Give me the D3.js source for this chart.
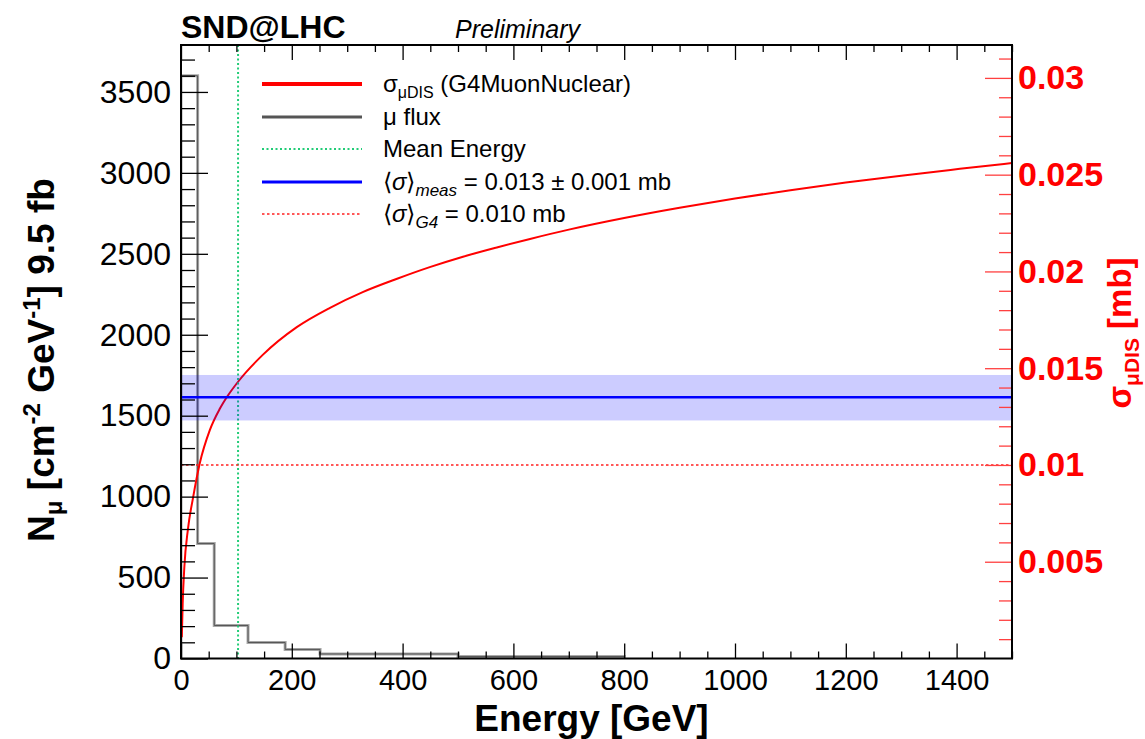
<!DOCTYPE html>
<html>
<head>
<meta charset="utf-8">
<script src="https://cdn.jsdelivr.net/npm/d3@7"></script>
<style>
  html, body { margin: 0; padding: 0; background: #fff; }
  svg { display: block; font-family: "Liberation Sans", Arial, Helvetica, sans-serif; }
</style>
</head>
<body>
<svg id="chart" width="1145" height="739"></svg>
<script>
// ---------------- data ----------------
const binEdges   = [0, 30, 60, 121, 188, 251, 500, 800];          // GeV
const fluxCounts = [3600, 710, 204, 99, 56, 28, 12];               // N_mu per bin

const sigmaEnergy = [1.5, 3, 6, 12.6, 21.7, 34, 52, 70, 85, 103, 148, 209, 269, 328, 390, 449, 509, 570, 630, 700, 800, 900, 1000, 1100, 1200, 1300, 1406, 1500];
const sigmaValues = [0.0011, 0.0028, 0.0047, 0.0067, 0.0083, 0.0101, 0.0118, 0.0129, 0.0136, 0.0143, 0.0157, 0.01712, 0.01812, 0.01893, 0.01962, 0.02022, 0.02076, 0.02124, 0.02168, 0.02216, 0.02276, 0.02329, 0.02377, 0.0242, 0.02459, 0.02495, 0.0253, 0.0256];

const meanEnergy   = 103;
const sigmaMeas    = 0.0135;
const sigmaMeasLo  = 0.0123;
const sigmaMeasHi  = 0.01465;
const sigmaG4      = 0.0100;

const xTicks          = [0, 200, 400, 600, 800, 1000, 1200, 1400];
const yLeftTicks      = [0, 500, 1000, 1500, 2000, 2500, 3000, 3500];
const yRightTicks     = [0.005, 0.01, 0.015, 0.02, 0.025, 0.03];
const yRightLabels    = ["0.005", "0.01", "0.015", "0.02", "0.025", "0.03"];

const legendLabels = ["sigmaDIS", "flux", "mean", "meas", "g4"];

// ---------------- layout ----------------
const L = 181, R = 1012, T = 45, B = 658.5;
const svg = d3.select("#chart");

const x  = d3.scaleLinear().domain([0, 1500]).range([L, R]);
const yL = d3.scaleLinear().domain([0, 3790]).range([B, T]);
const yR = d3.scaleLinear().domain([0, 0.0317]).range([B, T]);

const font = '"Liberation Sans", Arial, Helvetica, sans-serif';

// clip
svg.append("clipPath").attr("id", "clip")
  .append("rect").attr("x", L).attr("y", T).attr("width", R - L).attr("height", B - T);
const plot = svg.append("g").attr("clip-path", "url(#clip)");

// histogram (step)
const histPts = [[binEdges[0], 0]];
fluxCounts.forEach((c, i) => { histPts.push([binEdges[i], c]); histPts.push([binEdges[i + 1], c]); });
histPts.push([binEdges[binEdges.length - 1], 0]);
const histLine = d3.line().x(d => x(d[0])).y(d => yL(d[1]));
plot.append("path").attr("d", histLine(histPts))
  .attr("fill", "none").attr("stroke", "#a8a8a8").attr("stroke-width", 3);
plot.append("path").attr("d", histLine(histPts))
  .attr("fill", "none").attr("stroke", "#555").attr("stroke-width", 1);

// red sigma curve
const sigmaPts = sigmaEnergy.map((e, i) => [e, sigmaValues[i]]);
plot.append("path")
  .attr("d", d3.line().x(d => x(d[0])).y(d => yR(d[1])).curve(d3.curveMonotoneX)(sigmaPts))
  .attr("fill", "none").attr("stroke", "#ff0000").attr("stroke-width", 2);

// mean energy line
plot.append("line")
  .attr("x1", x(meanEnergy)).attr("x2", x(meanEnergy)).attr("y1", T).attr("y2", B)
  .attr("stroke", "#22cc77").attr("stroke-width", 2).attr("stroke-dasharray", "2,2.5");

// G4 mean line
plot.append("line")
  .attr("x1", L).attr("x2", R).attr("y1", yR(sigmaG4)).attr("y2", yR(sigmaG4))
  .attr("stroke", "#ff2020").attr("stroke-width", 1.6).attr("stroke-dasharray", "2.5,2.5");

// measured band (semi transparent, over curves)
plot.append("rect")
  .attr("x", L).attr("width", R - L)
  .attr("y", yR(sigmaMeasHi)).attr("height", yR(sigmaMeasLo) - yR(sigmaMeasHi))
  .attr("fill", "#0000ff").attr("fill-opacity", 0.2);
plot.append("line")
  .attr("x1", L).attr("x2", R).attr("y1", yR(sigmaMeas)).attr("y2", yR(sigmaMeas))
  .attr("stroke", "#0000ff").attr("stroke-width", 2.5);

// ---------------- axes ----------------
function styleAxis(g, color) {
  g.select(".domain").remove();
  g.selectAll("line").attr("stroke", color);
}

// bottom
const gxB = svg.append("g").attr("transform", `translate(0,${B})`)
  .call(d3.axisBottom(x).tickValues(xTicks).tickSize(-15).tickPadding(11).tickFormat(d3.format("d")));
styleAxis(gxB, "#000");
gxB.selectAll("line").attr("stroke-width", 1.3);
gxB.selectAll("text").attr("font-size", 29).attr("fill", "#000").attr("font-family", font);
const gxBm = svg.append("g").attr("transform", `translate(0,${B})`)
  .call(d3.axisBottom(x).tickValues(d3.range(0, 1501, 50).filter(v => v % 200 !== 0)).tickSize(-7).tickFormat(""));
styleAxis(gxBm, "#000"); gxBm.selectAll("line").attr("stroke-width", 1.3);

// top
const gxT = svg.append("g").attr("transform", `translate(0,${T})`)
  .call(d3.axisTop(x).tickValues(xTicks).tickSize(-15).tickFormat(""));
styleAxis(gxT, "#000"); gxT.selectAll("line").attr("stroke-width", 1.3);
const gxTm = svg.append("g").attr("transform", `translate(0,${T})`)
  .call(d3.axisTop(x).tickValues(d3.range(0, 1501, 50).filter(v => v % 200 !== 0)).tickSize(-7).tickFormat(""));
styleAxis(gxTm, "#000"); gxTm.selectAll("line").attr("stroke-width", 1.3);

// left
const gyL = svg.append("g").attr("transform", `translate(${L},0)`)
  .call(d3.axisLeft(yL).tickValues(yLeftTicks).tickSize(-27).tickPadding(10).tickFormat(d3.format("d")));
styleAxis(gyL, "#000"); gyL.selectAll("line").attr("stroke-width", 1.3);
gyL.selectAll("text").attr("font-size", 32).attr("fill", "#000").attr("font-family", font);
const gyLm = svg.append("g").attr("transform", `translate(${L},0)`)
  .call(d3.axisLeft(yL).tickValues(d3.range(0, 3790, 100).filter(v => v % 500 !== 0)).tickSize(-14).tickFormat(""));
styleAxis(gyLm, "#000"); gyLm.selectAll("line").attr("stroke-width", 1.3);

// right (red)
const gyR = svg.append("g").attr("transform", `translate(${R},0)`)
  .call(d3.axisRight(yR).tickValues(yRightTicks).tickSize(-27).tickPadding(6)
    .tickFormat((d, i) => yRightLabels[i]));
styleAxis(gyR, "#ff4040"); gyR.selectAll("line").attr("stroke-width", 1.3);
gyR.selectAll("text").attr("font-size", 34).attr("font-weight", "bold").attr("fill", "#ff0000").attr("font-family", font);
const gyRm = svg.append("g").attr("transform", `translate(${R},0)`)
  .call(d3.axisRight(yR).tickValues(d3.range(1, 32).map(v => v / 1000).filter(v => Math.round(v * 1000) % 5 !== 0)).tickSize(-13).tickFormat(""));
styleAxis(gyRm, "#ff4040"); gyRm.selectAll("line").attr("stroke-width", 1.3);

// frame
svg.append("rect").attr("x", L).attr("y", T).attr("width", R - L).attr("height", B - T)
  .attr("fill", "none").attr("stroke", "#000").attr("stroke-width", 2);

// ---------------- titles ----------------
svg.append("text").attr("x", L).attr("y", 38)
  .attr("font-size", 32).attr("font-weight", "bold").attr("font-family", font).text("SND@LHC");
svg.append("text").attr("x", 455).attr("y", 38)
  .attr("font-size", 25).attr("font-style", "italic").attr("font-family", font).text("Preliminary");

svg.append("text").attr("x", (L + R) / 2 - 5).attr("y", 731).attr("text-anchor", "middle")
  .attr("font-size", 37).attr("font-weight", "bold").attr("font-family", font).text("Energy [GeV]");

// left title
const lt = svg.append("text").attr("transform", "translate(54,360) rotate(-90)")
  .attr("text-anchor", "middle").attr("font-size", 37).attr("font-weight", "bold").attr("font-family", font);
lt.append("tspan").text("N");
lt.append("tspan").attr("font-size", 24).attr("dy", 8).text("μ");
lt.append("tspan").attr("dy", -8).text(" [cm");
lt.append("tspan").attr("font-size", 24).attr("dy", -14).text("-2");
lt.append("tspan").attr("dy", 14).text(" GeV");
lt.append("tspan").attr("font-size", 24).attr("dy", -14).text("-1");
lt.append("tspan").attr("dy", 14).text("] 9.5 fb");

// right title
const rt = svg.append("text").attr("transform", "translate(1131,333) rotate(-90)")
  .attr("text-anchor", "middle").attr("font-size", 33).attr("font-weight", "bold").attr("fill", "#ff0000").attr("font-family", font);
rt.append("tspan").text("σ");
rt.append("tspan").attr("font-size", 21).attr("dy", 8).text("μDIS");
rt.append("tspan").attr("dy", -8).text(" [mb]");

// ---------------- legend ----------------
const legRowsY = [84, 117, 149, 182, 214];
const legX1 = 262, legX2 = 362, legTX = 383;
const legStyles = [
  { stroke: "#ff0000", w: 4, dash: null },
  { stroke: "#555", w: 3, dash: null },
  { stroke: "#22cc77", w: 2, dash: "2,2.5" },
  { stroke: "#0000ff", w: 3, dash: null },
  { stroke: "#ff2020", w: 1.6, dash: "2.5,2.5" }
];
const leg = svg.append("g");
legendLabels.forEach((lab, i) => {
  const s = legStyles[i], y = legRowsY[i];
  leg.append("line").attr("x1", legX1).attr("x2", legX2).attr("y1", y).attr("y2", y)
    .attr("stroke", s.stroke).attr("stroke-width", s.w).attr("stroke-dasharray", s.dash);
  const t = leg.append("text").attr("x", legTX).attr("y", y + 8).attr("font-size", 24).attr("font-family", font);
  if (lab === "sigmaDIS") {
    t.append("tspan").text("σ");
    t.append("tspan").attr("font-size", 16).attr("dy", 6).text("μDIS");
    t.append("tspan").attr("dy", -6).text(" (G4MuonNuclear)");
  } else if (lab === "flux") {
    t.text("μ flux");
  } else if (lab === "mean") {
    t.text("Mean Energy");
  } else if (lab === "meas") {
    t.append("tspan").text("⟨");
    t.append("tspan").attr("font-style", "italic").text("σ");
    t.append("tspan").text("⟩");
    t.append("tspan").attr("font-size", 17).attr("font-style", "italic").attr("dy", 6).text("meas");
    t.append("tspan").attr("dy", -6).text(" = 0.013 ± 0.001 mb");
  } else {
    t.append("tspan").text("⟨");
    t.append("tspan").attr("font-style", "italic").text("σ");
    t.append("tspan").text("⟩");
    t.append("tspan").attr("font-size", 17).attr("font-style", "italic").attr("dy", 6).text("G4");
    t.append("tspan").attr("dy", -6).text(" = 0.010 mb");
  }
});
</script>
</body>
</html>
